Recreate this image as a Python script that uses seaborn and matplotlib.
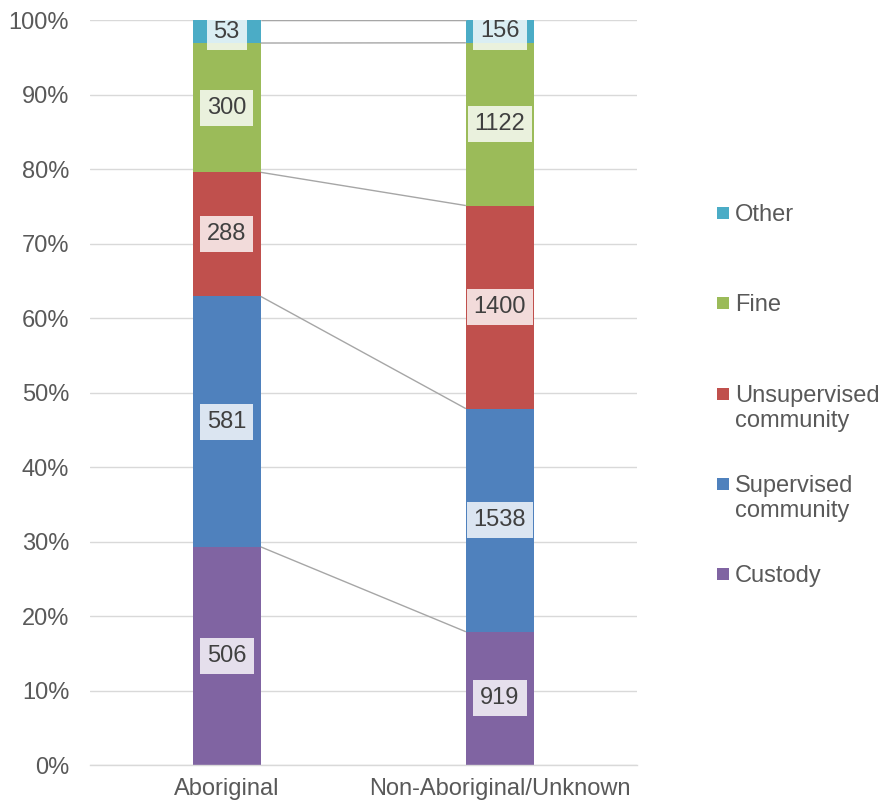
import numpy as np
import pandas as pd
import matplotlib
matplotlib.use("Agg")
import matplotlib.pyplot as plt
from matplotlib.patches import Rectangle
import seaborn as sns

# Sentence outcome counts by Aboriginal status
groups = ["Aboriginal", "Non-Aboriginal/Unknown"]
outcomes = ["Custody", "Supervised community", "Unsupervised community", "Fine", "Other"]
custody = [506, 919]
supervised = [581, 1538]
unsupervised = [288, 1400]
fine = [300, 1122]
other = [53, 156]
colors = ["#8064A2", "#4F81BD", "#C0504D", "#9BBB59", "#4BACC6"]
legend_labels = ["Custody", "Supervised\ncommunity", "Unsupervised\ncommunity", "Fine", "Other"]

sns.set_theme(style="white")
plt.rcParams["font.family"] = ["Liberation Sans", "DejaVu Sans"]
TEXT = "#595959"
GRID = "#D9D9D9"
FS = 17

counts = np.array([custody, supervised, unsupervised, fine, other], dtype=float)
pct = counts / counts.sum(axis=0) * 100
cum_top = np.cumsum(pct, axis=0)
cum_bot = cum_top - pct

fig = plt.figure(figsize=(8.83, 8.07), dpi=100)
ax = fig.add_axes([0.102, 0.052, 0.619, 0.923])

# Stacked bars: draw cumulative heights from the top series down
for i in range(len(outcomes) - 1, -1, -1):
    df = pd.DataFrame({"group": groups, "value": cum_top[i]})
    sns.barplot(data=df, x="group", y="value", color=colors[i], saturation=1,
                width=0.25, linewidth=0, errorbar=None, ax=ax, zorder=2)

bw = 0.25
# Series lines joining the segment boundaries of the two bars
for i in range(len(outcomes)):
    ax.plot([0 + bw / 2, 1 - bw / 2], [cum_top[i][0], cum_top[i][1]],
            color="#A6A6A6", lw=1.0, zorder=3, solid_capstyle="butt")

# Count labels in the middle of each segment
for i in range(len(outcomes)):
    for j in range(len(groups)):
        mid = (cum_top[i][j] + cum_bot[i][j]) / 2
        ax.text(j, mid, f"{int(counts[i][j])}", ha="center", va="center",
                fontsize=FS, color="#404040", zorder=5,
                bbox=dict(boxstyle="square,pad=0.3", facecolor="white",
                          alpha=0.8, edgecolor="none"))

ax.set_ylim(0, 100)
ax.set_xlim(-0.5, 1.5)
ax.set_yticks(np.arange(0, 101, 10))
ax.set_yticklabels([f"{v}%" for v in range(0, 101, 10)])
ax.set_xlabel("")
ax.set_ylabel("")
ax.yaxis.grid(True, color=GRID, lw=1.0, zorder=0)
ax.set_axisbelow(True)
for s in ["top", "right", "left"]:
    ax.spines[s].set_visible(False)
ax.spines["bottom"].set_color(GRID)
ax.spines["bottom"].set_linewidth(1.0)
ax.tick_params(axis="y", length=0, pad=15, labelsize=FS, labelcolor=TEXT)
ax.tick_params(axis="x", length=0, pad=9, labelsize=FS, labelcolor=TEXT)

# Legend on the right, marker aligned with the first line of each label
W, H = fig.get_size_inches() * fig.dpi
legend_rows_y = [574, 484, 394, 303, 213]
sq = 12
for i in range(len(outcomes)):
    yc = legend_rows_y[i]
    fig.add_artist(Rectangle((717 / W, 1 - (yc + sq / 2) / H), sq / W, sq / H,
                             transform=fig.transFigure, facecolor=colors[i],
                             edgecolor="none"))
    fig.text(735 / W, 1 - (yc - 9) / H, legend_labels[i], ha="left", va="top",
             fontsize=FS, color=TEXT, linespacing=1.2)

fig.savefig("out.png", dpi=100)
